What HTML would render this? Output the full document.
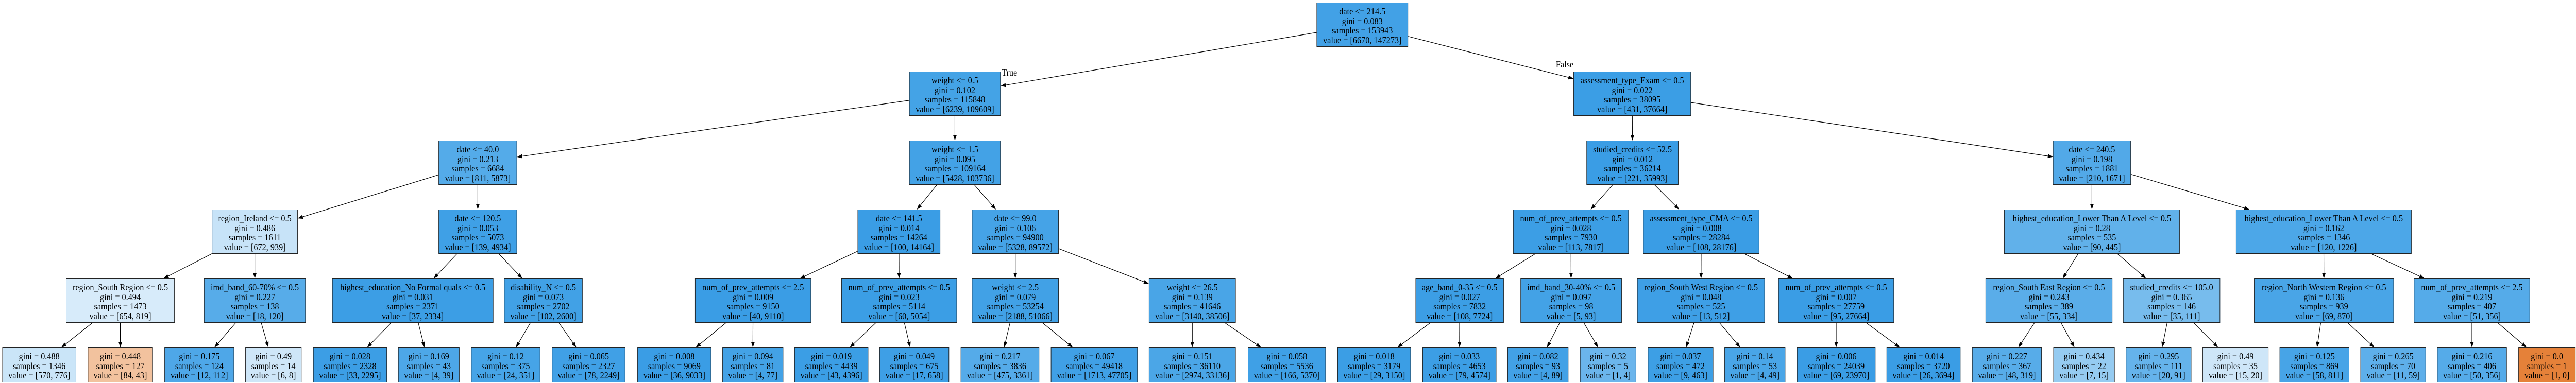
<!DOCTYPE html>
<html><head><meta charset="utf-8">
<style>
html,body{margin:0;padding:0;width:100%;height:100%;overflow:hidden;background:#fff;}
#wrap{position:absolute;left:0;top:0;width:5545px;height:744px;overflow:hidden;transform-origin:0 0;font-family:"Liberation Serif",serif;background:#fff;}
.n{position:absolute;box-sizing:border-box;border:1.3px solid #222;font-size:18px;line-height:18.5px;text-align:center;padding-top:7px;white-space:nowrap;color:#000;z-index:2;overflow:hidden;}
.l{position:absolute;font-size:18px;font-family:"Liberation Serif",serif;z-index:2;}
svg{position:absolute;left:0;top:0;z-index:1;}
</style></head><body>
<div id="wrap">
<svg id="e" width="5545" height="744"></svg>
<div class="n" style="left:2834px;top:5px;width:197px;height:86px;background:#42a1e6">date &lt;= 214.5<br>gini = 0.083<br>samples = 153943<br>value = [6670, 147273]</div>
<div class="n" style="left:1957px;top:139px;width:197px;height:86px;background:#44a3e6">weight &lt;= 0.5<br>gini = 0.102<br>samples = 115848<br>value = [6239, 109609]</div>
<div class="n" style="left:3387px;top:139px;width:253px;height:86px;background:#3b9ee5">assessment_type_Exam &lt;= 0.5<br>gini = 0.022<br>samples = 38095<br>value = [431, 37664]</div>
<div class="n" style="left:944px;top:273px;width:169px;height:86px;background:#54abe9">date &lt;= 40.0<br>gini = 0.213<br>samples = 6684<br>value = [811, 5873]</div>
<div class="n" style="left:1957px;top:273px;width:197px;height:86px;background:#43a2e6">weight &lt;= 1.5<br>gini = 0.095<br>samples = 109164<br>value = [5428, 103736]</div>
<div class="n" style="left:3415px;top:273px;width:198px;height:86px;background:#3a9de5">studied_credits &lt;= 52.5<br>gini = 0.012<br>samples = 36214<br>value = [221, 35993]</div>
<div class="n" style="left:4419px;top:273px;width:168px;height:86px;background:#52a9e8">date &lt;= 240.5<br>gini = 0.198<br>samples = 1881<br>value = [210, 1671]</div>
<div class="n" style="left:456px;top:407px;width:185px;height:86px;background:#c7e3f8">region_Ireland &lt;= 0.5<br>gini = 0.486<br>samples = 1611<br>value = [672, 939]</div>
<div class="n" style="left:944px;top:407px;width:169px;height:86px;background:#3fa0e6">date &lt;= 120.5<br>gini = 0.053<br>samples = 5073<br>value = [139, 4934]</div>
<div class="n" style="left:1846px;top:407px;width:178px;height:86px;background:#3a9de5">date &lt;= 141.5<br>gini = 0.014<br>samples = 14264<br>value = [100, 14164]</div>
<div class="n" style="left:2092px;top:407px;width:187px;height:86px;background:#45a3e7">date &lt;= 99.0<br>gini = 0.106<br>samples = 94900<br>value = [5328, 89572]</div>
<div class="n" style="left:3257px;top:407px;width:249px;height:86px;background:#3c9ee5">num_of_prev_attempts &lt;= 0.5<br>gini = 0.028<br>samples = 7930<br>value = [113, 7817]</div>
<div class="n" style="left:3537px;top:407px;width:250px;height:86px;background:#3a9de5">assessment_type_CMA &lt;= 0.5<br>gini = 0.008<br>samples = 28284<br>value = [108, 28176]</div>
<div class="n" style="left:4314px;top:407px;width:378px;height:86px;background:#61b1ea">highest_education_Lower Than A Level &lt;= 0.5<br>gini = 0.28<br>samples = 535<br>value = [90, 445]</div>
<div class="n" style="left:4813px;top:407px;width:378px;height:86px;background:#4ca7e8">highest_education_Lower Than A Level &lt;= 0.5<br>gini = 0.162<br>samples = 1346<br>value = [120, 1226]</div>
<div class="n" style="left:142px;top:541px;width:234px;height:86px;background:#d7ebfa">region_South Region &lt;= 0.5<br>gini = 0.494<br>samples = 1473<br>value = [654, 819]</div>
<div class="n" style="left:439px;top:541px;width:219px;height:86px;background:#57ace9">imd_band_60-70% &lt;= 0.5<br>gini = 0.227<br>samples = 138<br>value = [18, 120]</div>
<div class="n" style="left:715px;top:541px;width:347px;height:86px;background:#3c9ee5">highest_education_No Formal quals &lt;= 0.5<br>gini = 0.031<br>samples = 2371<br>value = [37, 2334]</div>
<div class="n" style="left:1085px;top:541px;width:169px;height:86px;background:#41a1e6">disability_N &lt;= 0.5<br>gini = 0.073<br>samples = 2702<br>value = [102, 2600]</div>
<div class="n" style="left:1496px;top:541px;width:250px;height:86px;background:#3a9de5">num_of_prev_attempts &lt;= 2.5<br>gini = 0.009<br>samples = 9150<br>value = [40, 9110]</div>
<div class="n" style="left:1811px;top:541px;width:249px;height:86px;background:#3b9ee5">num_of_prev_attempts &lt;= 0.5<br>gini = 0.023<br>samples = 5114<br>value = [60, 5054]</div>
<div class="n" style="left:2092px;top:541px;width:187px;height:86px;background:#41a1e6">weight &lt;= 2.5<br>gini = 0.079<br>samples = 53254<br>value = [2188, 51066]</div>
<div class="n" style="left:2473px;top:541px;width:187px;height:86px;background:#49a5e7">weight &lt;= 26.5<br>gini = 0.139<br>samples = 41646<br>value = [3140, 38506]</div>
<div class="n" style="left:3047px;top:541px;width:190px;height:86px;background:#3c9ee5">age_band_0-35 &lt;= 0.5<br>gini = 0.027<br>samples = 7832<br>value = [108, 7724]</div>
<div class="n" style="left:3273px;top:541px;width:218px;height:86px;background:#43a2e6">imd_band_30-40% &lt;= 0.5<br>gini = 0.097<br>samples = 98<br>value = [5, 93]</div>
<div class="n" style="left:3524px;top:541px;width:275px;height:86px;background:#3e9fe6">region_South West Region &lt;= 0.5<br>gini = 0.048<br>samples = 525<br>value = [13, 512]</div>
<div class="n" style="left:3828px;top:541px;width:249px;height:86px;background:#3a9de5">num_of_prev_attempts &lt;= 0.5<br>gini = 0.007<br>samples = 27759<br>value = [95, 27664]</div>
<div class="n" style="left:4274px;top:541px;width:273px;height:86px;background:#5aade9">region_South East Region &lt;= 0.5<br>gini = 0.243<br>samples = 389<br>value = [55, 334]</div>
<div class="n" style="left:4570px;top:541px;width:209px;height:86px;background:#77bced">studied_credits &lt;= 105.0<br>gini = 0.365<br>samples = 146<br>value = [35, 111]</div>
<div class="n" style="left:4852px;top:541px;width:301px;height:86px;background:#49a5e7">region_North Western Region &lt;= 0.5<br>gini = 0.136<br>samples = 939<br>value = [69, 870]</div>
<div class="n" style="left:5196px;top:541px;width:250px;height:86px;background:#55abe9">num_of_prev_attempts &lt;= 2.5<br>gini = 0.219<br>samples = 407<br>value = [51, 356]</div>
<div class="n" style="left:5px;top:675px;width:159px;height:68px;background:#cae5f8">gini = 0.488<br>samples = 1346<br>value = [570, 776]</div>
<div class="n" style="left:189px;top:675px;width:140px;height:68px;background:#f2c29e">gini = 0.448<br>samples = 127<br>value = [84, 43]</div>
<div class="n" style="left:354px;top:675px;width:150px;height:68px;background:#4ea7e8">gini = 0.175<br>samples = 124<br>value = [12, 112]</div>
<div class="n" style="left:528px;top:675px;width:121px;height:68px;background:#cee6f8">gini = 0.49<br>samples = 14<br>value = [6, 8]</div>
<div class="n" style="left:674px;top:675px;width:159px;height:68px;background:#3c9ee5">gini = 0.028<br>samples = 2328<br>value = [33, 2295]</div>
<div class="n" style="left:857px;top:675px;width:132px;height:68px;background:#4da7e8">gini = 0.169<br>samples = 43<br>value = [4, 39]</div>
<div class="n" style="left:1014px;top:675px;width:149px;height:68px;background:#46a4e7">gini = 0.12<br>samples = 375<br>value = [24, 351]</div>
<div class="n" style="left:1188px;top:675px;width:158px;height:68px;background:#40a0e6">gini = 0.065<br>samples = 2327<br>value = [78, 2249]</div>
<div class="n" style="left:1372px;top:675px;width:159px;height:68px;background:#3a9de5">gini = 0.008<br>samples = 9069<br>value = [36, 9033]</div>
<div class="n" style="left:1555px;top:675px;width:131px;height:68px;background:#43a2e6">gini = 0.094<br>samples = 81<br>value = [4, 77]</div>
<div class="n" style="left:1710px;top:675px;width:159px;height:68px;background:#3b9ee5">gini = 0.019<br>samples = 4439<br>value = [43, 4396]</div>
<div class="n" style="left:1893px;top:675px;width:150px;height:68px;background:#3e9fe6">gini = 0.049<br>samples = 675<br>value = [17, 658]</div>
<div class="n" style="left:2068px;top:675px;width:169px;height:68px;background:#55abe9">gini = 0.217<br>samples = 3836<br>value = [475, 3361]</div>
<div class="n" style="left:2262px;top:675px;width:187px;height:68px;background:#40a0e6">gini = 0.067<br>samples = 49418<br>value = [1713, 47705]</div>
<div class="n" style="left:2473px;top:675px;width:187px;height:68px;background:#4ba6e7">gini = 0.151<br>samples = 36110<br>value = [2974, 33136]</div>
<div class="n" style="left:2686px;top:675px;width:168px;height:68px;background:#3fa0e6">gini = 0.058<br>samples = 5536<br>value = [166, 5370]</div>
<div class="n" style="left:2879px;top:675px;width:158px;height:68px;background:#3b9ee5">gini = 0.018<br>samples = 3179<br>value = [29, 3150]</div>
<div class="n" style="left:3062px;top:675px;width:159px;height:68px;background:#3c9ee5">gini = 0.033<br>samples = 4653<br>value = [79, 4574]</div>
<div class="n" style="left:3245px;top:675px;width:131px;height:68px;background:#42a1e6">gini = 0.082<br>samples = 93<br>value = [4, 89]</div>
<div class="n" style="left:3401px;top:675px;width:121px;height:68px;background:#6bb5ec">gini = 0.32<br>samples = 5<br>value = [1, 4]</div>
<div class="n" style="left:3547px;top:675px;width:141px;height:68px;background:#3d9fe5">gini = 0.037<br>samples = 472<br>value = [9, 463]</div>
<div class="n" style="left:3712px;top:675px;width:131px;height:68px;background:#49a5e7">gini = 0.14<br>samples = 53<br>value = [4, 49]</div>
<div class="n" style="left:3868px;top:675px;width:169px;height:68px;background:#3a9de5">gini = 0.006<br>samples = 24039<br>value = [69, 23970]</div>
<div class="n" style="left:4061px;top:675px;width:159px;height:68px;background:#3a9de5">gini = 0.014<br>samples = 3720<br>value = [26, 3694]</div>
<div class="n" style="left:4245px;top:675px;width:150px;height:68px;background:#57ace9">gini = 0.227<br>samples = 367<br>value = [48, 319]</div>
<div class="n" style="left:4420px;top:675px;width:132px;height:68px;background:#95cbf1">gini = 0.434<br>samples = 22<br>value = [7, 15]</div>
<div class="n" style="left:4576px;top:675px;width:141px;height:68px;background:#65b3eb">gini = 0.295<br>samples = 111<br>value = [20, 91]</div>
<div class="n" style="left:4741px;top:675px;width:142px;height:68px;background:#cee6f8">gini = 0.49<br>samples = 35<br>value = [15, 20]</div>
<div class="n" style="left:4907px;top:675px;width:150px;height:68px;background:#47a4e7">gini = 0.125<br>samples = 869<br>value = [58, 811]</div>
<div class="n" style="left:5081px;top:675px;width:141px;height:68px;background:#5eafea">gini = 0.265<br>samples = 70<br>value = [11, 59]</div>
<div class="n" style="left:5246px;top:675px;width:150px;height:68px;background:#55abe9">gini = 0.216<br>samples = 406<br>value = [50, 356]</div>
<div class="n" style="left:5421px;top:675px;width:123px;height:68px;background:#e58139">gini = 0.0<br>samples = 1<br>value = [1, 0]</div>
<div class="l" style="left:2156px;top:131px;">True</div>
<div class="l" style="left:3349px;top:115px;">False</div>
</div>
<script>
(function(){
var els=document.querySelectorAll('.n');
var N=[];for(var i=0;i<els.length;i++){var d=els[i];N.push({x:d.offsetLeft,y:d.offsetTop,w:d.offsetWidth,h:d.offsetHeight});}
var E=[[0,1],[0,2],[1,3],[1,4],[2,5],[2,6],[3,7],[3,8],[4,9],[4,10],[5,11],[5,12],[6,13],[6,14]];
var l3=[7,8,9,10,11,12,13,14];
for(var k=0;k<8;k++){E.push([l3[k],15+2*k]);E.push([l3[k],16+2*k]);}
for(var k=0;k<16;k++){E.push([15+k,31+2*k]);E.push([15+k,32+2*k]);}
function t(b,dx,dy){var a=dx?(b.w/2)/Math.abs(dx):1e9;var c=dy?(b.h/2)/Math.abs(dy):1e9;return Math.min(a,c);}
var s='';
E.forEach(function(e){
 var p=N[e[0]],c=N[e[1]];
 var px=p.x+p.w/2,py=p.y+p.h/2,cx=c.x+c.w/2,cy=c.y+c.h/2;
 var dx=cx-px,dy=cy-py;
 var t1=t(p,dx,dy),t2=t(c,dx,dy);
 var sx=px+dx*t1,sy=py+dy*t1,ex=cx-dx*t2,ey=cy-dy*t2;
 var L=Math.sqrt((ex-sx)*(ex-sx)+(ey-sy)*(ey-sy));var ux=(ex-sx)/L,uy=(ey-sy)/L;
 var al=11,hw=4;
 var bx=ex-ux*al,by=ey-uy*al;
 s+='<line x1="'+sx+'" y1="'+sy+'" x2="'+bx+'" y2="'+by+'" stroke="#000" stroke-width="1.2"/>';
 s+='<polygon points="'+ex+','+ey+' '+(bx-uy*hw)+','+(by+ux*hw)+' '+(bx+uy*hw)+','+(by-ux*hw)+'" fill="#000"/>';
});
document.getElementById('e').innerHTML=s;
function fit(){
 var w=window.innerWidth||5545,h=window.innerHeight||744;
 var sx=w/5545,sy=h/744;
 if(Math.abs(sx-1)<0.001&&Math.abs(sy-1)<0.001){document.getElementById('wrap').style.transform='';return;}
 document.getElementById('wrap').style.transform='scale('+sx+','+sy+')';
}
fit();window.addEventListener('resize',fit);
})();
</script>
</body></html>
